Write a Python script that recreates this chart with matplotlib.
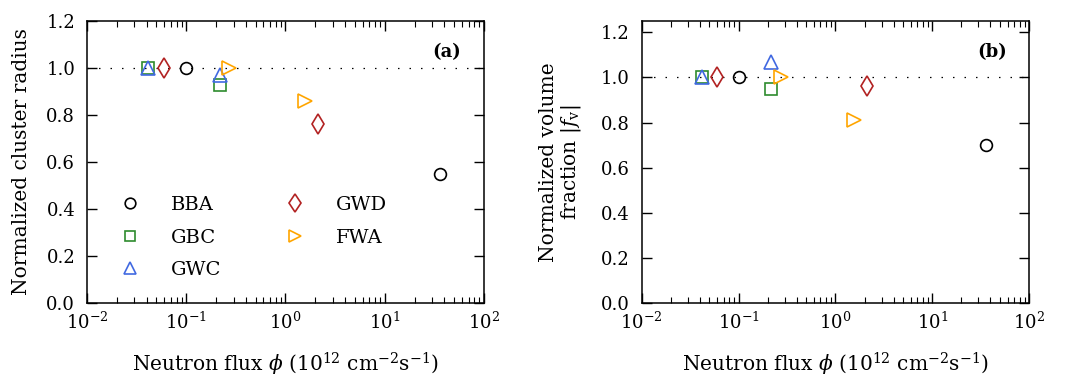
import numpy as np
import matplotlib
matplotlib.use("Agg")
import matplotlib.pyplot as plt
from matplotlib.ticker import LogLocator, NullFormatter

plt.rcParams['font.family'] = ['DejaVu Serif']
plt.rcParams['mathtext.fontset'] = 'dejavuserif'
plt.rcParams['font.size'] = 13

# flux values (1e12 cm^-2 s^-1) and normalized quantities per material
names = ["BBA", "GBC", "GWC", "GWD", "FWA"]
flux_bba = [0.1, 36.0]
flux_gbc = [0.0415, 0.217]
flux_gwc = [0.0415, 0.217]
flux_gwd = [0.06, 2.11]
flux_fwa = [0.272, 1.56]

radius_bba = [1.0, 0.55]
radius_gbc = [1.0, 0.93]
radius_gwc = [1.0, 0.97]
radius_gwd = [1.0, 0.76]
radius_fwa = [1.0, 0.86]

volfrac_bba = [1.0, 0.70]
volfrac_gbc = [1.0, 0.95]
volfrac_gwc = [1.0, 1.07]
volfrac_gwd = [1.0, 0.96]
volfrac_fwa = [1.0, 0.81]

markers = ['o', 's', '^', 'd', '>']
sizes = [8.5, 8.5, 9.5, 10.5, 9.5]
colors = ['black', '#2e8b2e', '#4169e1', '#b22222', '#ffa500']

fluxes = [flux_bba, flux_gbc, flux_gwc, flux_gwd, flux_fwa]
radii = [radius_bba, radius_gbc, radius_gwc, radius_gwd, radius_fwa]
volfracs = [volfrac_bba, volfrac_gbc, volfrac_gwc, volfrac_gwd, volfrac_fwa]

fig = plt.figure(figsize=(10.67, 3.76), dpi=100)
ax1 = fig.add_axes([0.0815, 0.194, 0.372, 0.750])
ax2 = fig.add_axes([0.6014, 0.194, 0.363, 0.750])

xlabel = r"Neutron flux $\phi$ ($10^{12}$ cm$^{-2}$s$^{-1}$)"


def style_axis(ax, ymax, yticks):
    ax.set_xscale('log')
    ax.set_xlim(1e-2, 1e2)
    ax.set_ylim(0, ymax)
    ax.set_yticks(yticks)
    ax.set_yticklabels([f"{t:.1f}" for t in yticks])
    ax.xaxis.set_minor_locator(LogLocator(base=10, subs=np.arange(2, 10), numticks=20))
    ax.xaxis.set_minor_formatter(NullFormatter())
    ax.tick_params(which='both', direction='in', top=True, right=True)
    ax.tick_params(which='major', length=7.5, width=1)
    ax.tick_params(which='minor', length=4.5, width=0.8)
    ax.tick_params(axis='x', which='major', pad=6)
    ax.tick_params(axis='y', which='major', pad=8.5)
    ax.axhline(1.0, color='black', lw=0.9, ls=(0, (1.2, 8)), zorder=1)
    ax.set_xlabel(xlabel, labelpad=13, fontsize=14.5)
    for sp in ax.spines.values():
        sp.set_linewidth(1.1)


def draw_points(ax, yvals):
    for f, v, m, s, c, n in zip(fluxes, yvals, markers, sizes, colors, names):
        ax.plot(f, v, ls='none', marker=m, ms=s, mfc='none',
                mec=c, mew=1.2, label=n, zorder=3)


draw_points(ax1, radii)
draw_points(ax2, volfracs)

style_axis(ax1, 1.2, [0.0, 0.2, 0.4, 0.6, 0.8, 1.0, 1.2])
style_axis(ax2, 1.25, [0.0, 0.2, 0.4, 0.6, 0.8, 1.0, 1.2])

ax1.set_ylabel("Normalized cluster radius", labelpad=11, fontsize=14.5)
ax2.set_ylabel("Normalized volume\n" + r"fraction $|f_\mathrm{v}|$",
               linespacing=1.05, labelpad=13, fontsize=14.5)

ax1.text(0.905, 0.89, "(a)", transform=ax1.transAxes, ha='center', va='center',
         fontweight='bold', fontsize=13)
ax2.text(0.905, 0.89, "(b)", transform=ax2.transAxes, ha='center', va='center',
         fontweight='bold', fontsize=13)

ax1.legend(loc='lower left', bbox_to_anchor=(0.04, 0.057), borderaxespad=0,
           ncol=2, frameon=False, markerscale=0.9, handlelength=2.0,
           handletextpad=1.1, columnspacing=2.8, labelspacing=0.75, fontsize=14)

fig.savefig("out.png", dpi=100)
